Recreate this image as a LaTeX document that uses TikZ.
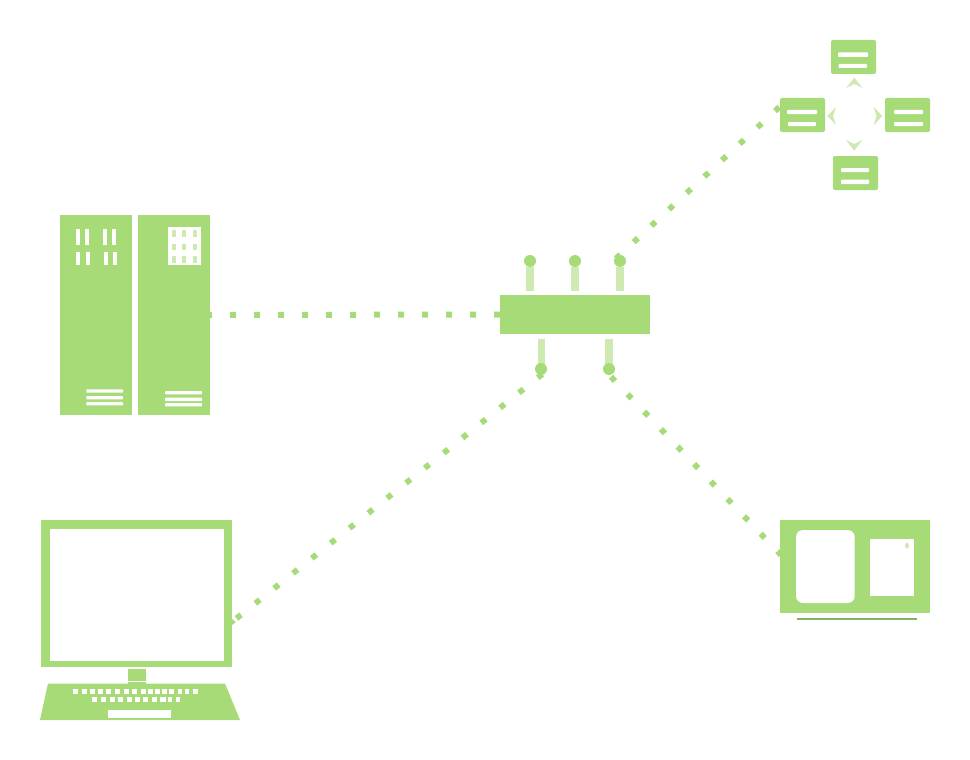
\documentclass[tikz,border=0pt]{standalone}
\usetikzlibrary{backgrounds}
\definecolor{leaf}{HTML}{A6DB78}
\definecolor{pale}{HTML}{CFEAB0}
\definecolor{rule}{HTML}{7FB661}
\tikzset{
  x=1pt,y=-1pt,
  solidbox/.style={draw=none,fill=leaf,inner sep=0pt,outer sep=0pt,rectangle,minimum width=#1},
  port/.style={circle,draw=none,fill=leaf,inner sep=0pt,outer sep=0pt,minimum size=12pt},
  link/.style={draw=leaf,line width=#1,dash pattern=on 5.8pt off 18.3pt},
  link/.default=5.8pt,
  whitebar/.style={fill=white,rounded corners=0.8pt},
  stub/.style={fill=pale},
  arrowmark/.style={fill=pale},
}
\begin{document}
\begin{tikzpicture}
\useasboundingbox (0,0) rectangle (970,760);

% server
\node[solidbox=72pt,minimum height=200pt] (srvL) at (96,315) {};
\node[solidbox=72pt,minimum height=200pt] (srvR) at (174,315) {};
\foreach \a in {76,85,103,112} \fill[white] (\a,229) rectangle ++(4,16);
\foreach \a in {76,85.7,104,112.7} \fill[white] (\a,252) rectangle ++(4,13);
\fill[white] (168,227) rectangle (200.7,265);
\foreach \a in {171.7,182,193} \foreach \b/\h in {230/7,244/6.3,256/6.7}
  \fill[pale] (\a,\b) rectangle ++(4,\h);
\foreach \b in {389.3,396,402} \fill[whitebar] (86.3,\b) rectangle ++(36.7,3.4);
\foreach \b in {391,397.7,403} \fill[whitebar] (165,\b) rectangle ++(37,3.4);

% hub
\node[solidbox=150pt,minimum height=39pt] (hub) at (575,314.5) {};
\foreach \a in {526,571,616} \fill[stub] (\a,267) rectangle ++(8,24);
\fill[stub] (538,339) rectangle (545,363.5);
\fill[stub] (605,339) rectangle (613,363.5);
\node[port] (portA) at (530,261) {};
\node[port] (portB) at (575,261) {};
\node[port] (portC) at (620,261) {};
\node[port] (portD) at (541,369) {};
\node[port] (portE) at (609,369) {};

% top right group
\node[solidbox=45pt,minimum height=34pt,rounded corners=2pt] (cardN) at (853.5,57) {};
\node[solidbox=45pt,minimum height=34pt,rounded corners=2pt] (cardW) at (802.5,115) {};
\node[solidbox=45pt,minimum height=34pt,rounded corners=2pt] (cardE) at (907.5,115) {};
\node[solidbox=45pt,minimum height=34pt,rounded corners=2pt] (cardS) at (855.5,173) {};
\fill[whitebar] (838,52.5) rectangle (868,57);
\fill[whitebar] (838.5,64) rectangle (867,68);
\fill[whitebar] (787,110) rectangle (817,114);
\fill[whitebar] (788,122) rectangle (816,126);
\fill[whitebar] (894,110) rectangle (923,114);
\fill[whitebar] (894,122) rectangle (923,126);
\fill[whitebar] (841,168) rectangle (869,172);
\fill[whitebar] (841,179.5) rectangle (869,184);
\fill[arrowmark] (854.3,77.7) -- (862.5,87.8) -- (854.3,84) -- (846.2,87.8) -- cycle;
\fill[arrowmark] (827.3,116) -- (836,107) -- (833,116) -- (836,124.8) -- cycle;
\fill[arrowmark] (882.3,116) -- (873.7,107) -- (876.5,116) -- (873.7,125.3) -- cycle;
\fill[arrowmark] (854.3,150.7) -- (845.8,140) -- (854.3,144) -- (862.2,140) -- cycle;

% computer
\node[solidbox=191pt,minimum height=147pt] (monitor) at (136.5,593.5) {};
\fill[white] (50,529) rectangle (224,661);
\node[solidbox=18pt,minimum height=12pt] (stand) at (137,675) {};
\fill[leaf] (128,682) rectangle (146,684);
\fill[leaf] (48,683.5) -- (225,683.5) -- (240,720) -- (40,720) -- cycle;
\foreach \a/\w in {73/5,81.7/5,90/5,98.3/5,106.3/5,115.3/5,124/4.6,132.3/5,141.3/5,148/5,155/5,162.3/5,169.3/5,177.7/4.6,184.7/4.6,193.3/5}
  \fill[white] (\a,689) rectangle ++(\w,5);
\foreach \a/\w in {92/5,100.7/5,110/4.6,118.3/5,127/4.6,135.3/5,143.3/5,152/4.6,160.3/5.2,167.7/4.6,176/4.4}
  \fill[white] (\a,697) rectangle ++(\w,5);
\fill[white] (108,710) rectangle (171,718);

% right device
\node[solidbox=150pt,minimum height=93pt] (storage) at (855,566.5) {};
\fill[white,rounded corners=7pt] (796,530) rectangle (854.7,603);
\fill[white] (870,538.7) rectangle (913.7,595.7);
\fill[pale] (907,545.7) ellipse [x radius=2pt,y radius=3pt];
\fill[rule] (797,617.8) rectangle (916.7,619.8);

% connector ends
\coordinate (endC) at (616,258.5);
\coordinate (endCard) at (781,105.5);
\coordinate (endD) at (542.3,374.1);
\coordinate (endPC) at (232,622);
\coordinate (endE) at (611,376.8);
\coordinate (endStore) at (781,555);

\begin{scope}[on background layer]
  \fill[white] (0,0) rectangle (970,760);
  \draw[link=6pt,dash pattern=on 6pt off 18pt] (hub.west) -- (srvR.east);
  \draw[link] (endC) -- (endCard);
  \draw[link] (endD) -- (endPC);
  \draw[link] (endE) -- (endStore);
  \fill[leaf] (232,619) -- (235.8,622.3) -- (232,625) -- cycle;
\end{scope}
\end{tikzpicture}
\end{document}
